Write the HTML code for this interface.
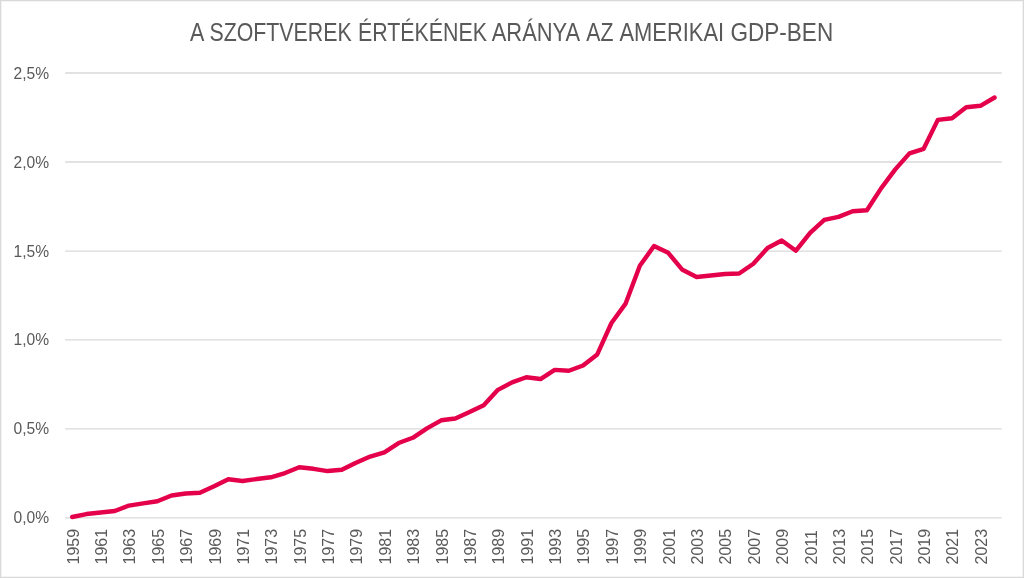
<!DOCTYPE html>
<html lang="hu"><head><meta charset="utf-8"><title>A szoftverek értékének aránya az amerikai GDP-ben</title>
<style>
html,body{margin:0;padding:0;background:#fff;}
body{width:1024px;height:578px;overflow:hidden;}
svg{display:block;}
text{font-family:"Liberation Sans",Arial,sans-serif;fill:#595959;}
</style></head><body>
<svg width="1024" height="578" viewBox="0 0 1024 578">
<rect x="0.5" y="0.5" width="1023" height="577" fill="#fff" stroke="#d9d9d9" stroke-width="1"/>
<rect x="1.5" y="1.5" width="1021" height="575" fill="none" stroke="#f4f4f4" stroke-width="1"/>
<g font-size="25">
<text transform="translate(190.10,40.8) scale(0.8606,1)">A</text>
<text transform="translate(209.43,40.8) scale(0.8539,1)">SZOFTVEREK</text>
<text transform="translate(357.99,40.8) scale(0.8552,1)">ÉRTÉKÉNEK</text>
<text transform="translate(491.70,40.8) scale(0.8764,1)">ARÁNYA</text>
<text transform="translate(586.25,40.8) scale(0.8496,1)">AZ</text>
<text transform="translate(619.50,40.8) scale(0.8759,1)">AMERIKAI</text>
<text transform="translate(730.47,40.8) scale(0.9020,1)">GDP-BEN</text>
</g>
<line x1="65.1" y1="73.0" x2="1001.7" y2="73.0" stroke="#d9d9d9" stroke-width="1.4"/>
<text x="13.5" y="78.50" font-size="15.6">2,5%</text>
<line x1="65.1" y1="162.0" x2="1001.7" y2="162.0" stroke="#d9d9d9" stroke-width="1.4"/>
<text x="13.5" y="167.50" font-size="15.6">2,0%</text>
<line x1="65.1" y1="251.1" x2="1001.7" y2="251.1" stroke="#d9d9d9" stroke-width="1.4"/>
<text x="13.5" y="256.60" font-size="15.6">1,5%</text>
<line x1="65.1" y1="339.9" x2="1001.7" y2="339.9" stroke="#d9d9d9" stroke-width="1.4"/>
<text x="13.5" y="345.40" font-size="15.6">1,0%</text>
<line x1="65.1" y1="428.9" x2="1001.7" y2="428.9" stroke="#d9d9d9" stroke-width="1.4"/>
<text x="13.5" y="434.40" font-size="15.6">0,5%</text>
<line x1="65.1" y1="517.9" x2="1001.7" y2="517.9" stroke="#d9d9d9" stroke-width="1.4"/>
<text x="13.5" y="523.40" font-size="15.6">0,0%</text>
<text transform="translate(78.60,564.5) rotate(-90)" font-size="16">1959</text>
<text transform="translate(106.98,564.5) rotate(-90)" font-size="16">1961</text>
<text transform="translate(135.36,564.5) rotate(-90)" font-size="16">1963</text>
<text transform="translate(163.74,564.5) rotate(-90)" font-size="16">1965</text>
<text transform="translate(192.12,564.5) rotate(-90)" font-size="16">1967</text>
<text transform="translate(220.50,564.5) rotate(-90)" font-size="16">1969</text>
<text transform="translate(248.89,564.5) rotate(-90)" font-size="16">1971</text>
<text transform="translate(277.27,564.5) rotate(-90)" font-size="16">1973</text>
<text transform="translate(305.65,564.5) rotate(-90)" font-size="16">1975</text>
<text transform="translate(334.03,564.5) rotate(-90)" font-size="16">1977</text>
<text transform="translate(362.41,564.5) rotate(-90)" font-size="16">1979</text>
<text transform="translate(390.80,564.5) rotate(-90)" font-size="16">1981</text>
<text transform="translate(419.18,564.5) rotate(-90)" font-size="16">1983</text>
<text transform="translate(447.56,564.5) rotate(-90)" font-size="16">1985</text>
<text transform="translate(475.94,564.5) rotate(-90)" font-size="16">1987</text>
<text transform="translate(504.32,564.5) rotate(-90)" font-size="16">1989</text>
<text transform="translate(532.70,564.5) rotate(-90)" font-size="16">1991</text>
<text transform="translate(561.09,564.5) rotate(-90)" font-size="16">1993</text>
<text transform="translate(589.47,564.5) rotate(-90)" font-size="16">1995</text>
<text transform="translate(617.85,564.5) rotate(-90)" font-size="16">1997</text>
<text transform="translate(646.23,564.5) rotate(-90)" font-size="16">1999</text>
<text transform="translate(674.61,564.5) rotate(-90)" font-size="16">2001</text>
<text transform="translate(703.00,564.5) rotate(-90)" font-size="16">2003</text>
<text transform="translate(731.38,564.5) rotate(-90)" font-size="16">2005</text>
<text transform="translate(759.76,564.5) rotate(-90)" font-size="16">2007</text>
<text transform="translate(788.14,564.5) rotate(-90)" font-size="16">2009</text>
<text transform="translate(816.52,564.5) rotate(-90)" font-size="16">2011</text>
<text transform="translate(844.90,564.5) rotate(-90)" font-size="16">2013</text>
<text transform="translate(873.29,564.5) rotate(-90)" font-size="16">2015</text>
<text transform="translate(901.67,564.5) rotate(-90)" font-size="16">2017</text>
<text transform="translate(930.05,564.5) rotate(-90)" font-size="16">2019</text>
<text transform="translate(958.43,564.5) rotate(-90)" font-size="16">2021</text>
<text transform="translate(986.81,564.5) rotate(-90)" font-size="16">2023</text>
<polyline points="72.20,517.00 86.39,514.05 100.58,512.55 114.77,511.05 128.96,505.55 143.15,503.30 157.34,501.30 171.53,495.55 185.72,493.55 199.91,492.80 214.10,486.30 228.30,479.30 242.49,481.05 256.68,479.05 270.87,477.30 285.06,473.05 299.25,467.20 313.44,468.80 327.63,471.05 341.82,469.80 356.01,462.80 370.20,456.55 384.40,452.30 398.59,443.05 412.78,437.80 426.97,428.30 441.16,420.30 455.35,418.55 469.54,412.05 483.73,405.30 497.92,389.85 512.11,382.35 526.30,377.25 540.50,379.05 554.69,369.90 568.88,370.80 583.07,365.55 597.26,354.40 611.45,323.00 625.64,303.60 639.83,265.80 654.02,246.00 668.21,252.80 682.40,269.80 696.60,277.05 710.79,275.55 724.98,274.05 739.17,273.55 753.36,263.70 767.55,248.00 781.74,240.55 795.93,250.70 810.12,232.80 824.31,219.90 838.50,216.90 852.70,211.30 866.89,210.30 881.08,188.40 895.27,169.40 909.46,153.35 923.65,148.80 937.84,119.90 952.03,118.20 966.22,107.30 980.41,105.80 994.60,97.50" fill="none" stroke="#e4004b" stroke-width="4.4" stroke-linecap="round" stroke-linejoin="round"/>
</svg></body></html>
